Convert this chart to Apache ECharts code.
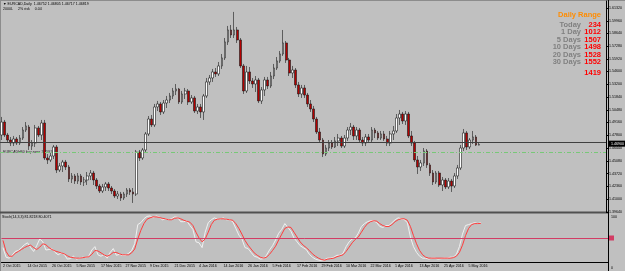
<!DOCTYPE html>
<html>
<head>
<meta charset="utf-8">
<script src="https://cdn.jsdelivr.net/npm/echarts@6/dist/echarts.min.js"></script>
<style>
html, body { margin: 0; padding: 0; background: #c0c0c0; }
#chart { width: 625px; height: 271px; }
</style>
</head>
<body>
<div id="chart"></div>
<script>
//-----------------------------------------data-----------------------------------------
// EURCAD daily, 2 Oct 2015 .. 11 May 2016 (one label every 8 bars)
var dateLabels = ['2 Oct 2015', '14 Oct 2015', '26 Oct 2015', '5 Nov 2015', '17 Nov 2015', '27 Nov 2015',
    '9 Dec 2015', '21 Dec 2015', '4 Jan 2016', '14 Jan 2016', '26 Jan 2016', '5 Feb 2016', '17 Feb 2016',
    '29 Feb 2016', '10 Mar 2016', '22 Mar 2016', '1 Apr 2016', '13 Apr 2016', '25 Apr 2016', '5 May 2016'];

var priceTicks = [1.61320, 1.59960, 1.58640, 1.57280, 1.55920, 1.54600, 1.53200, 1.51840, 1.50480,
    1.49160, 1.47800, 1.46440, 1.45080, 1.43720, 1.42360, 1.41000, 1.39640];

var opens = [
    1.4782, 1.4920, 1.4782, 1.4729, 1.4697, 1.4740, 1.4697, 1.4750, 1.4835, 1.4867,
    1.4665, 1.4697, 1.4857, 1.4782, 1.4910, 1.4538, 1.4517, 1.4559, 1.4655, 1.4410,
    1.4453, 1.4495, 1.4442, 1.4315, 1.4347, 1.4293, 1.4347, 1.4283, 1.4304, 1.4347,
    1.4378, 1.4304, 1.4240, 1.4187, 1.4230, 1.4262, 1.4219, 1.4187, 1.4134, 1.4155,
    1.4113, 1.4155, 1.4198, 1.4177, 1.4155, 1.4601, 1.4538, 1.4623, 1.4793, 1.4952,
    1.4889, 1.5080, 1.5112, 1.5027, 1.5122, 1.5154, 1.5197, 1.5250, 1.5271, 1.5133,
    1.5218, 1.5250, 1.5133, 1.5176, 1.5037, 1.5080, 1.5027, 1.5197, 1.5346, 1.5388,
    1.5452, 1.5431, 1.5516, 1.5601, 1.5771, 1.5898, 1.5845, 1.5898, 1.5792, 1.5516,
    1.5250, 1.5452, 1.5356, 1.5324, 1.5367, 1.5144, 1.5261, 1.5367, 1.5303, 1.5409,
    1.5494, 1.5569, 1.5643, 1.5760, 1.5579, 1.5441, 1.5473, 1.5314, 1.5218, 1.5282,
    1.5207, 1.5112, 1.5059, 1.4952, 1.4814, 1.4729, 1.4580, 1.4644, 1.4697, 1.4655,
    1.4719, 1.4750, 1.4665, 1.4750, 1.4835, 1.4867, 1.4772, 1.4835, 1.4729, 1.4697,
    1.4761, 1.4729, 1.4835, 1.4804, 1.4750, 1.4793, 1.4740, 1.4697, 1.4793, 1.4825,
    1.4963, 1.5005, 1.4931, 1.5005, 1.4772, 1.4697, 1.4517, 1.4442, 1.4485, 1.4612,
    1.4464, 1.4378, 1.4283, 1.4378, 1.4251, 1.4304, 1.4230, 1.4293, 1.4240, 1.4347,
    1.4432, 1.4644, 1.4804, 1.4655, 1.4729, 1.4761, 1.4675
];
var closes = [
    1.4920, 1.4782, 1.4729, 1.4697, 1.4740, 1.4697, 1.4750, 1.4835, 1.4878, 1.4665,
    1.4697, 1.4857, 1.4782, 1.4910, 1.4538, 1.4517, 1.4559, 1.4655, 1.4410, 1.4453,
    1.4495, 1.4442, 1.4315, 1.4347, 1.4293, 1.4347, 1.4283, 1.4304, 1.4347, 1.4378,
    1.4304, 1.4240, 1.4187, 1.4230, 1.4262, 1.4219, 1.4187, 1.4134, 1.4155, 1.4113,
    1.4155, 1.4198, 1.4177, 1.4155, 1.4601, 1.4538, 1.4623, 1.4793, 1.4952, 1.4889,
    1.5080, 1.5112, 1.5027, 1.5122, 1.5154, 1.5197, 1.5250, 1.5271, 1.5133, 1.5218,
    1.5250, 1.5133, 1.5176, 1.5037, 1.5080, 1.5027, 1.5197, 1.5346, 1.5388, 1.5452,
    1.5431, 1.5516, 1.5601, 1.5771, 1.5898, 1.5845, 1.5898, 1.5792, 1.5516, 1.5250,
    1.5452, 1.5356, 1.5324, 1.5367, 1.5144, 1.5261, 1.5367, 1.5303, 1.5409, 1.5494,
    1.5569, 1.5643, 1.5760, 1.5579, 1.5441, 1.5473, 1.5314, 1.5218, 1.5282, 1.5207,
    1.5112, 1.5059, 1.4952, 1.4814, 1.4729, 1.4580, 1.4644, 1.4697, 1.4655, 1.4719,
    1.4750, 1.4665, 1.4750, 1.4835, 1.4867, 1.4772, 1.4835, 1.4729, 1.4697, 1.4761,
    1.4729, 1.4835, 1.4804, 1.4750, 1.4793, 1.4740, 1.4697, 1.4793, 1.4825, 1.4963,
    1.5005, 1.4931, 1.5005, 1.4772, 1.4697, 1.4517, 1.4442, 1.4485, 1.4612, 1.4464,
    1.4378, 1.4283, 1.4378, 1.4251, 1.4304, 1.4230, 1.4293, 1.4240, 1.4347, 1.4432,
    1.4644, 1.4804, 1.4655, 1.4729, 1.4761, 1.4675, 1.4682
];
var lows = [
    1.4729, 1.4761, 1.4697, 1.4665, 1.4665, 1.4676, 1.4676, 1.4729, 1.4814, 1.4623,
    1.4623, 1.4655, 1.4761, 1.4729, 1.4517, 1.4474, 1.4495, 1.4527, 1.4378, 1.4389,
    1.4389, 1.4410, 1.4283, 1.4272, 1.4262, 1.4262, 1.4251, 1.4240, 1.4251, 1.4304,
    1.4251, 1.4208, 1.4166, 1.4166, 1.4187, 1.4187, 1.4155, 1.4113, 1.4102, 1.4081,
    1.4092, 1.4123, 1.4145, 1.4060, 1.4134, 1.4506, 1.4517, 1.4601, 1.4772, 1.4867,
    1.4867, 1.5037, 1.4995, 1.5005, 1.5069, 1.5122, 1.5165, 1.5207, 1.5112, 1.5112,
    1.5165, 1.5101, 1.5112, 1.5016, 1.5005, 1.4963, 1.4942, 1.5176, 1.5314, 1.5346,
    1.5399, 1.5409, 1.5484, 1.5579, 1.5739, 1.5813, 1.5813, 1.5760, 1.5494, 1.5218,
    1.5229, 1.5324, 1.5282, 1.5239, 1.5122, 1.5112, 1.5197, 1.5271, 1.5282, 1.5377,
    1.5473, 1.5548, 1.5622, 1.5548, 1.5409, 1.5388, 1.5282, 1.5186, 1.5176, 1.5176,
    1.5080, 1.5027, 1.4920, 1.4793, 1.4697, 1.4548, 1.4559, 1.4612, 1.4633, 1.4644,
    1.4665, 1.4644, 1.4644, 1.4719, 1.4782, 1.4729, 1.4729, 1.4697, 1.4665, 1.4665,
    1.4697, 1.4708, 1.4750, 1.4729, 1.4729, 1.4719, 1.4665, 1.4665, 1.4729, 1.4804,
    1.4889, 1.4899, 1.4889, 1.4750, 1.4665, 1.4495, 1.4368, 1.4400, 1.4453, 1.4432,
    1.4347, 1.4251, 1.4262, 1.4230, 1.4187, 1.4208, 1.4208, 1.4177, 1.4219, 1.4315,
    1.4410, 1.4612, 1.4623, 1.4633, 1.4687, 1.4665, 1.4672
];
var highs = [
    1.4974, 1.4942, 1.4804, 1.4761, 1.4772, 1.4761, 1.4782, 1.4867, 1.4920, 1.4889,
    1.4729, 1.4889, 1.4878, 1.4942, 1.4942, 1.4580, 1.4591, 1.4676, 1.4676, 1.4485,
    1.4517, 1.4517, 1.4464, 1.4378, 1.4368, 1.4378, 1.4368, 1.4336, 1.4389, 1.4410,
    1.4400, 1.4325, 1.4262, 1.4262, 1.4283, 1.4283, 1.4240, 1.4208, 1.4187, 1.4177,
    1.4177, 1.4219, 1.4219, 1.4219, 1.4623, 1.4623, 1.4644, 1.4814, 1.4984, 1.4995,
    1.5112, 1.5144, 1.5133, 1.5154, 1.5197, 1.5229, 1.5282, 1.5324, 1.5282, 1.5250,
    1.5282, 1.5271, 1.5207, 1.5197, 1.5112, 1.5112, 1.5218, 1.5388, 1.5420, 1.5484,
    1.5494, 1.5558, 1.5643, 1.5813, 1.5941, 1.5951, 1.6090, 1.5930, 1.5813, 1.5537,
    1.5516, 1.5505, 1.5388, 1.5409, 1.5388, 1.5292, 1.5399, 1.5399, 1.5452, 1.5537,
    1.5611, 1.5675, 1.5898, 1.5781, 1.5601, 1.5516, 1.5494, 1.5346, 1.5314, 1.5314,
    1.5229, 1.5154, 1.5091, 1.4974, 1.4857, 1.4750, 1.4676, 1.4729, 1.4729, 1.4761,
    1.4793, 1.4772, 1.4782, 1.4867, 1.4910, 1.4889, 1.4867, 1.4857, 1.4761, 1.4793,
    1.4793, 1.4867, 1.4857, 1.4825, 1.4825, 1.4825, 1.4772, 1.4825, 1.4878, 1.5005,
    1.5048, 1.5027, 1.5037, 1.5027, 1.4825, 1.4719, 1.4559, 1.4517, 1.4644, 1.4633,
    1.4485, 1.4410, 1.4400, 1.4400, 1.4336, 1.4325, 1.4325, 1.4315, 1.4378, 1.4464,
    1.4676, 1.4846, 1.4825, 1.4750, 1.4825, 1.4782, 1.4700
];

// Stochastic(14,3,3): main (white) and signal (red)
var stochMain = [
    30, 10, 8, 14, 22, 24, 30, 36, 40, 30,
    22, 34, 48, 42, 25, 26, 28, 20, 15, 19,
    16, 6, 7, 12, 6, 8, 10, 9, 12, 25,
    32, 15, 12, 16, 8, 20, 28, 14, 16, 14,
    14, 18, 24, 38, 78, 82, 90, 95, 96, 92,
    96, 94, 88, 90, 88, 90, 94, 93, 84, 84,
    86, 76, 68, 42, 40, 30, 62, 82, 88, 92,
    89, 90, 92, 88, 88, 84, 70, 56, 48, 30,
    28, 20, 12, 10, 6, 7, 14, 25, 34, 46,
    60, 68, 80, 72, 64, 50, 42, 34, 30, 26,
    16, 10, 6, 4, 3, 5, 8, 8, 10, 14,
    14, 18, 32, 42, 48, 50, 60, 74, 80, 84,
    86, 86, 82, 74, 72, 76, 76, 82, 88, 92,
    90, 88, 82, 52, 32, 20, 12, 8, 8, 6,
    8, 8, 6, 7, 8, 8, 10, 10, 16, 32,
    58, 76, 78, 80, 82, 80, 81.82
];
var stochSignal = [
    45, 22, 12, 12, 18, 22, 26, 30, 33, 35,
    30, 26, 31, 38, 36, 30, 26, 23, 21, 19,
    17, 13, 10, 9, 8, 8, 9, 10, 11, 16,
    24, 23, 19, 15, 12, 15, 20, 20, 17, 15,
    15, 15, 19, 27, 48, 66, 80, 89, 92, 94,
    94, 93, 91, 90, 88, 88, 91, 92, 90, 87,
    85, 83, 76, 62, 50, 42, 48, 62, 78, 87,
    89, 90, 90, 89, 88, 87, 80, 70, 58, 45,
    35, 27, 19, 14, 10, 8, 10, 16, 24, 33,
    46, 58, 70, 73, 72, 62, 52, 42, 35, 30,
    24, 17, 12, 8, 5, 4, 6, 7, 8, 11,
    13, 15, 22, 31, 40, 47, 52, 62, 72, 80,
    84, 86, 85, 80, 76, 74, 74, 78, 84, 88,
    90, 90, 87, 74, 55, 38, 24, 15, 10, 8,
    8, 8, 8, 8, 8, 8, 8, 9, 12, 20,
    35, 55, 70, 78, 80, 80, 80.41
];

var bidPrice = 1.4690;
var buyZone = 1.4591;
var rangeNames = ['Today', '1 Day', '5 Days', '10 Days', '20 Days', '30 Days'];
var rangeValues = [234, 1012, 1507, 1498, 1528, 1552];
var rangeAverage = 1419;

//-----------------------------------------layout-----------------------------------------
var FONT = 'Liberation Sans';
var SLOTS = 198;          // bars plus the empty shift area on the right
var PLOT_RIGHT = 608;

var ohlc = [];
for (var i = 0; i < opens.length; i++) {
    ohlc.push([opens[i], closes[i], lows[i], highs[i]]);
}
var slots = [];
for (var s = 0; s < SLOTS; s++) {
    slots.push(String(s));
}

function showDateLabel(index) {
    return index % 8 === 0 && index / 8 < dateLabels.length;
}

var chart = echarts.init(document.getElementById('chart'));
var option = {
    animation: false,
    backgroundColor: '#c0c0c0',
    grid: [
        {left: 0, right: 625 - PLOT_RIGHT, top: 1, height: 211},
        {left: 0, right: 625 - PLOT_RIGHT, top: 214, height: 48}
    ],
    xAxis: [{
        type: 'category',
        gridIndex: 0,
        data: slots,
        show: false
    }, {
        type: 'category',
        gridIndex: 1,
        data: slots,
        axisLine: {lineStyle: {color: '#000', width: 1}},
        axisTick: {
            alignWithLabel: true,
            interval: showDateLabel,
            length: 2,
            lineStyle: {color: '#000'}
        },
        axisLabel: {
            interval: showDateLabel,
            formatter: function(value) {
                return dateLabels[parseInt(value, 10) / 8] || '';
            },
            align: 'left',
            margin: 1.5,
            fontSize: 3.6,
            fontFamily: FONT,
            color: '#000'
        }
    }],
    yAxis: [{
        type: 'value',
        gridIndex: 0,
        position: 'right',
        min: 1.3964,
        max: 1.6206,
        splitLine: {show: false},
        axisLine: {show: true, lineStyle: {color: '#000'}},
        axisTick: {show: true, customValues: priceTicks, length: 2, lineStyle: {color: '#000'}},
        axisLabel: {
            customValues: priceTicks,
            formatter: function(v) { return v.toFixed(5); },
            margin: 3,
            fontSize: 3.6,
            fontFamily: FONT,
            color: '#000'
        }
    }, {
        type: 'value',
        gridIndex: 1,
        position: 'right',
        min: 0,
        max: 100,
        splitLine: {show: false},
        axisLine: {show: true, lineStyle: {color: '#000'}},
        axisTick: {show: false},
        axisLabel: {show: false}
    }],
    series: [{
        type: 'candlestick',
        xAxisIndex: 0,
        yAxisIndex: 0,
        data: ohlc,
        barWidth: 2.2,
        itemStyle: {
            color: '#ffffff',
            color0: '#b40000',
            borderColor: '#1a1a1a',
            borderColor0: '#1a1a1a',
            borderWidth: 0.6
        },
        markLine: {
            silent: true,
            symbol: 'none',
            animation: false,
            label: {show: false},
            data: [
                {yAxis: bidPrice, lineStyle: {color: '#404040', width: 1, type: 'solid'}},
                {yAxis: buyZone, lineStyle: {color: '#78c878', width: 1, type: [4, 2, 1, 2]}}
            ]
        }
    }, {
        type: 'line',
        xAxisIndex: 1,
        yAxisIndex: 1,
        data: stochMain,
        showSymbol: false,
        lineStyle: {color: '#f0f0f0', width: 1}
    }, {
        type: 'line',
        xAxisIndex: 1,
        yAxisIndex: 1,
        data: stochSignal,
        showSymbol: false,
        lineStyle: {color: '#ff3c3c', width: 1},
        markLine: {
            silent: true,
            symbol: 'none',
            animation: false,
            label: {show: false},
            data: [{yAxis: 50, lineStyle: {color: '#d23c64', width: 1, type: 'solid'}}]
        }
    }]
};
chart.setOption(option);

//-----------------------------------------overlay texts-----------------------------------------
var bidY = chart.convertToPixel({yAxisIndex: 0}, bidPrice);
var zoneY = chart.convertToPixel({yAxisIndex: 0}, buyZone);
var levelY = chart.convertToPixel({yAxisIndex: 1}, 50);

var graphics = [
    {type: 'rect', shape: {x: 0, y: 0, width: 625, height: 1}, style: {fill: '#8c8c8c'}},
    {type: 'rect', shape: {x: 0, y: 0, width: 1, height: 271}, style: {fill: '#8c8c8c'}},
    {type: 'rect', shape: {x: 0, y: 211.5, width: PLOT_RIGHT, height: 2}, style: {fill: '#505050'}},
    {type: 'line', shape: {x1: PLOT_RIGHT + 0.5, y1: 0, x2: PLOT_RIGHT + 0.5, y2: 271}, style: {stroke: '#000', lineWidth: 1}},
    {type: 'rect', shape: {x: PLOT_RIGHT + 1, y: bidY - 3, width: 16, height: 6}, style: {fill: '#000'}},
    {type: 'text', x: PLOT_RIGHT + 3, y: bidY, style: {text: bidPrice.toFixed(5), fill: '#fff', font: '3.6px ' + FONT, verticalAlign: 'middle'}},
    {type: 'rect', shape: {x: PLOT_RIGHT + 1, y: levelY - 2.5, width: 5, height: 5}, style: {fill: '#d23c64'}},
    {type: 'text', x: PLOT_RIGHT + 3, y: 215, style: {text: '100', fill: '#000', font: '3.6px ' + FONT, verticalAlign: 'top'}},
    {type: 'text', x: PLOT_RIGHT + 3, y: 268, style: {text: '0', fill: '#000', font: '3.6px ' + FONT, verticalAlign: 'middle'}},
    {type: 'text', x: 3, y: 4, style: {text: '\u25BC EURCAD,Daily  1.46752 1.46805 1.46717 1.46819', fill: '#000', font: '3.6px ' + FONT, verticalAlign: 'middle'}},
    {type: 'text', x: 3, y: 9, style: {text: '2000L     2% risk     0.04', fill: '#000', font: '3.6px ' + FONT, verticalAlign: 'middle'}},
    {type: 'text', x: 3, y: zoneY - 1, style: {text: 'EURCADH60 buy zone 1.45910', fill: '#202020', font: '3.6px ' + FONT, verticalAlign: 'middle'}},
    {type: 'text', x: 2, y: 217, style: {text: 'Stoch(14,3,3) 81.8218 80.4071', fill: '#000', font: '3.6px ' + FONT, verticalAlign: 'middle'}},
    {type: 'text', x: 601, y: 15, style: {text: 'Daily Range', fill: '#ff8c00', font: 'bold 7.5px ' + FONT, align: 'right', verticalAlign: 'middle'}}
];
for (var r = 0; r < rangeNames.length; r++) {
    var rowY = 24.5 + r * 7.5;
    graphics.push({type: 'text', x: 581, y: rowY, style: {text: rangeNames[r], fill: '#808080', font: 'bold 7.5px ' + FONT, align: 'right', verticalAlign: 'middle'}});
    graphics.push({type: 'text', x: 601, y: rowY, style: {text: String(rangeValues[r]), fill: '#ff0000', font: 'bold 7.5px ' + FONT, align: 'right', verticalAlign: 'middle'}});
}
graphics.push({type: 'text', x: 601, y: 73, style: {text: String(rangeAverage), fill: '#ff0000', font: 'bold 7.5px ' + FONT, align: 'right', verticalAlign: 'middle'}});

chart.setOption({graphic: graphics});
</script>
</body>
</html>
